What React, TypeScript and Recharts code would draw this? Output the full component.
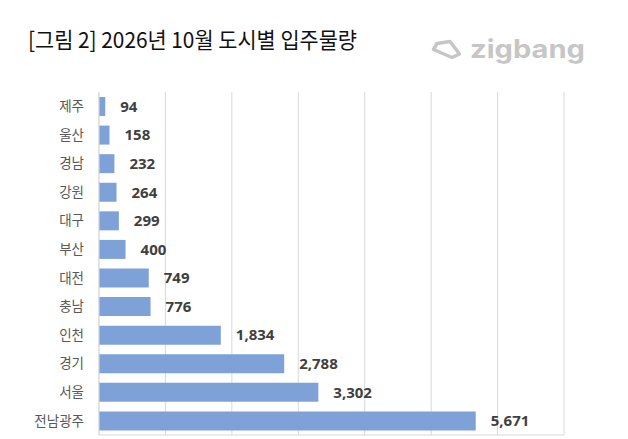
import { BarChart, Bar, XAxis, YAxis, CartesianGrid, LabelList } from 'recharts';

const cities = ['제주', '울산', '경남', '강원', '대구', '부산', '대전', '충남', '인천', '경기', '서울', '전남광주'];
const supply = [94, 158, 232, 264, 299, 400, 749, 776, 1834, 2788, 3302, 5671];
const xTicks = [0, 1000, 2000, 3000, 4000, 5000, 6000, 7000];

const data = cities.map((city, i) => ({ city, value: supply[i] }));

const KR = '"Noto Sans CJK KR", "Noto Sans", sans-serif';

const EmptyTick = () => <g />;

export default function App() {
  return (
    <div style={{ position: 'absolute', left: 0, top: 0, width: 628, height: 439, background: '#fff' }}>
      <BarChart
        width={628}
        height={439}
        data={data}
        layout="vertical"
        margin={{ top: 92, right: 64, bottom: 0, left: 0 }}
        barSize={19}
      >
        <CartesianGrid horizontal={false} stroke="#d9d9d9" />
        <XAxis
          type="number"
          domain={[0, 7000]}
          ticks={xTicks}
          interval={0}
          height={4}
          tick={<EmptyTick />}
          tickLine={false}
          axisLine={{ stroke: '#d9d9d9' }}
        />
        <YAxis
          type="category"
          dataKey="city"
          width={99}
          tickLine={false}
          tickSize={0}
          tickMargin={15}
          axisLine={{ stroke: '#d9d9d9' }}
          tick={{ fill: '#595959', fontSize: 13.5, fontFamily: KR }}
        />
        <Bar dataKey="value" fill="#7ea2d8" isAnimationActive={false}>
          <LabelList
            dataKey="value"
            position="right"
            offset={15}
            formatter={(v: number) => Number(v).toLocaleString('en-US')}
            style={{ fill: '#404040', fontSize: 15, fontWeight: 700, fontFamily: '"Noto Sans", sans-serif' }}
          />
        </Bar>
      </BarChart>
      <svg width={628} height={439} style={{ position: 'absolute', left: 0, top: 0, pointerEvents: 'none' }}>
        <text
          x={28}
          y={48}
          fontSize={22}
          fontFamily={KR}
          fill="#111"
          textLength={329}
          lengthAdjust="spacingAndGlyphs"
        >
          [그림 2] 2026년 10월 도시별 입주물량
        </text>
        <path
          d="M 437 43.5 L 450 41.5 L 459.5 54 L 452 57.5 L 433.5 49.5 Z"
          fill="none"
          stroke="#c6c6c6"
          strokeWidth={3.5}
          strokeLinejoin="round"
        />
        <text
          x={470}
          y={58}
          fontSize={25}
          fontWeight={700}
          fontFamily="Inter, sans-serif"
          fill="#c6c6c6"
          textLength={115}
          lengthAdjust="spacingAndGlyphs"
        >
          zigbang
        </text>
      </svg>
    </div>
  );
}
